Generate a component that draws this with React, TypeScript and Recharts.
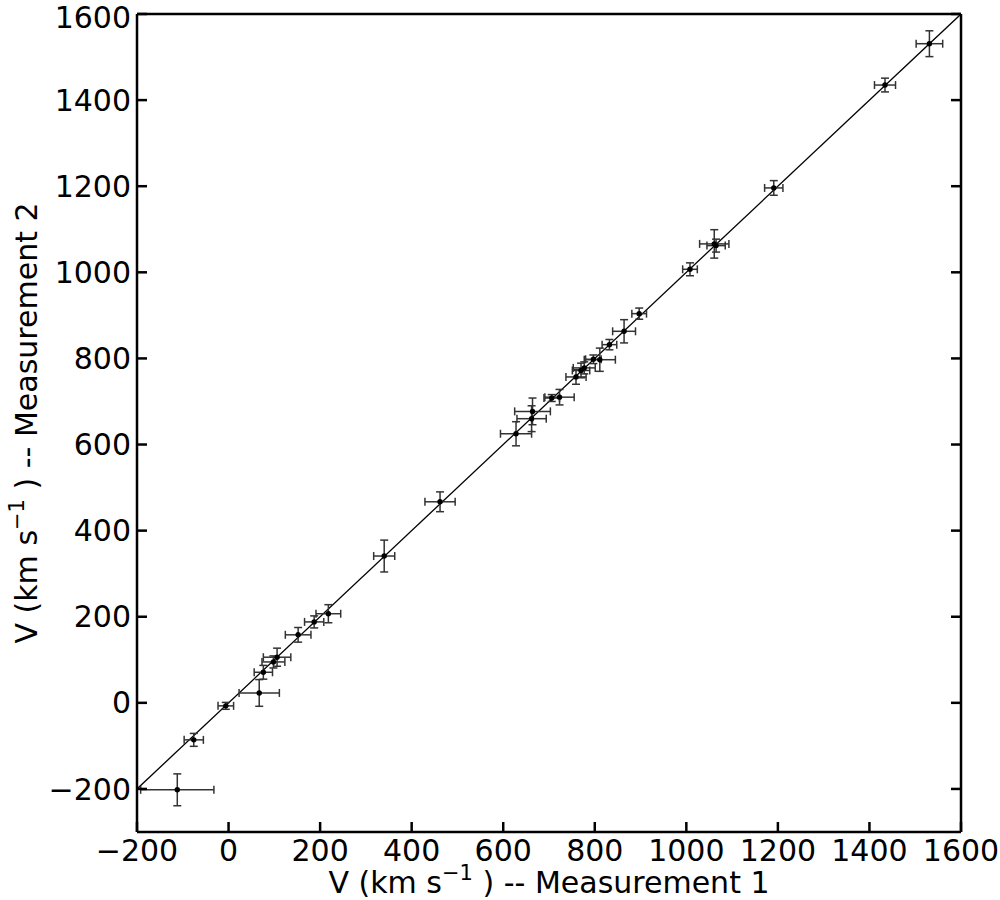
import { ScatterChart, Scatter, XAxis, YAxis, ErrorBar, ReferenceLine } from "recharts";

// velocities (km/s)
const measurement1 = [-112, -76, -6, 67, 76, 98, 106, 152, 187, 218, 340, 462, 628, 662, 664, 706, 723, 759, 770, 777, 797, 811, 832, 864, 897, 1008, 1061, 1065, 1191, 1434, 1531];
const measurement2 = [-202, -86, -7, 23, 71, 95, 106, 158, 188, 207, 341, 467, 625, 660, 677, 708, 710, 757, 772, 778, 798, 797, 832, 863, 904, 1007, 1066, 1062, 1196, 1435, 1531];
const error1 = [80, 21, 17, 44, 20, 25, 30, 28, 21, 27, 23, 33, 34, 32, 39, 17, 32, 22, 19, 24, 17, 34, 16, 25, 16, 16, 32, 20, 20, 23, 29];
const error2 = [37, 15, 8, 31, 16, 14, 21, 17, 14, 21, 37, 23, 28, 30, 31, 8, 18, 17, 17, 14, 10, 27, 12, 27, 13, 15, 33, 15, 17, 16, 30];

const xTicks = [-200, 0, 200, 400, 600, 800, 1000, 1200, 1400, 1600];
const yTicks = [-200, 0, 200, 400, 600, 800, 1000, 1200, 1400, 1600];
const oneToOne = [-200, 1600];

const points = measurement1.map((v, i) => ({
  v1: v,
  v2: measurement2[i],
  e1: error1[i],
  e2: error2[i],
}));

const font = "'DejaVu Sans', sans-serif";
const fmt = (v: number) => (v < 0 ? `\u2212${Math.abs(v)}` : `${v}`);
const blank = () => "";

const tickStyle = { fill: "#000", fontSize: 30, fontFamily: font };
const frame = { stroke: "#000", strokeWidth: 2.5 };

const Dot = (props: any) => <circle cx={props.cx} cy={props.cy} r={2.7} fill="#000" />;

const XTitle = () => (
  <text x={549} y={893} textAnchor="middle" fontSize={30} fontFamily={font} fill="#000">
    V (km s
    <tspan dy={-13} fontSize={21}>{"\u22121"}</tspan>
    <tspan dy={13}> ) -- Measurement 1</tspan>
  </text>
);

const YTitle = () => (
  <text
    x={37}
    y={423}
    transform="rotate(-90 37 423)"
    textAnchor="middle"
    fontSize={30}
    fontFamily={font}
    fill="#000"
  >
    V (km s
    <tspan dy={-13} fontSize={21}>{"\u22121"}</tspan>
    <tspan dy={13}> ) -- Measurement 2</tspan>
  </text>
);

export default function App() {
  return (
    <div style={{ position: "absolute", left: 0, top: 0, background: "#fff" }}>
      <ScatterChart width={1000} height={900} margin={{ top: 0, right: 0, bottom: 0, left: 0 }}>
        <XAxis
          xAxisId={0}
          dataKey="v1"
          type="number"
          domain={[-200, 1600]}
          ticks={xTicks}
          allowDataOverflow
          height={68}
          tickSize={-10}
          tickMargin={18}
          tickFormatter={fmt}
          tick={tickStyle}
          axisLine={frame}
          tickLine={frame}
          label={<XTitle />}
        />
        <XAxis
          xAxisId="top"
          orientation="top"
          type="number"
          domain={[-200, 1600]}
          ticks={xTicks}
          allowDataOverflow
          height={14}
          tickSize={-10}
          tickFormatter={blank}
          axisLine={frame}
          tickLine={frame}
        />
        <YAxis
          yAxisId={0}
          dataKey="v2"
          type="number"
          domain={[-300, 1600]}
          ticks={yTicks}
          allowDataOverflow
          width={137}
          tickSize={-10}
          tickMargin={16}
          tickFormatter={fmt}
          tick={tickStyle}
          axisLine={frame}
          tickLine={frame}
          label={<YTitle />}
        />
        <YAxis
          yAxisId="right"
          orientation="right"
          type="number"
          domain={[-300, 1600]}
          ticks={yTicks}
          allowDataOverflow
          width={39}
          tickSize={-10}
          tickFormatter={blank}
          axisLine={frame}
          tickLine={frame}
        />
        <ReferenceLine
          xAxisId={0}
          yAxisId={0}
          segment={[
            { x: oneToOne[0], y: oneToOne[0] },
            { x: oneToOne[1], y: oneToOne[1] },
          ]}
          stroke="#000"
          strokeWidth={1.3}
          ifOverflow="hidden"
        />
        <Scatter data={points} xAxisId={0} yAxisId={0} shape={<Dot />} isAnimationActive={false}>
          <ErrorBar dataKey="e1" direction="x" width={4} stroke="#333" strokeWidth={1.5} />
          <ErrorBar dataKey="e2" direction="y" width={4} stroke="#333" strokeWidth={1.5} />
        </Scatter>
      </ScatterChart>
    </div>
  );
}
